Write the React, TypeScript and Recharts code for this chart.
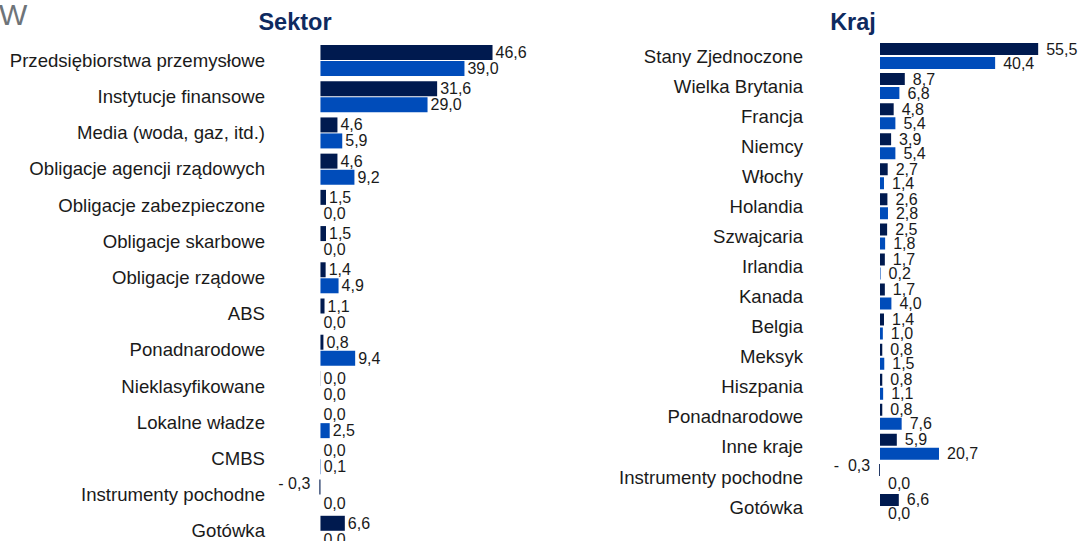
import { BarChart, Bar, XAxis, YAxis, LabelList } from "recharts";

const sectorNames = [
  "Przedsiębiorstwa przemysłowe",
  "Instytucje finansowe",
  "Media (woda, gaz, itd.)",
  "Obligacje agencji rządowych",
  "Obligacje zabezpieczone",
  "Obligacje skarbowe",
  "Obligacje rządowe",
  "ABS",
  "Ponadnarodowe",
  "Nieklasyfikowane",
  "Lokalne władze",
  "CMBS",
  "Instrumenty pochodne",
  "Gotówka",
];
const sectorFund = [46.6, 31.6, 4.6, 4.6, 1.5, 1.5, 1.4, 1.1, 0.8, 0.04, 0.0, 0.0, -0.3, 6.6];
const sectorIndex = [39.0, 29.0, 5.9, 9.2, 0.0, 0.0, 4.9, 0.0, 9.4, 0.0, 2.5, 0.1, 0.0, 0.0];

const countryNames = [
  "Stany Zjednoczone",
  "Wielka Brytania",
  "Francja",
  "Niemcy",
  "Włochy",
  "Holandia",
  "Szwajcaria",
  "Irlandia",
  "Kanada",
  "Belgia",
  "Meksyk",
  "Hiszpania",
  "Ponadnarodowe",
  "Inne kraje",
  "Instrumenty pochodne",
  "Gotówka",
];
const countryFund = [55.5, 8.7, 4.8, 3.9, 2.7, 2.6, 2.5, 1.7, 1.7, 1.4, 0.8, 0.8, 0.8, 5.9, -0.3, 6.6];
const countryIndex = [40.4, 6.8, 5.4, 5.4, 1.4, 2.8, 1.8, 0.2, 4.0, 1.0, 1.5, 1.1, 7.6, 20.7, 0.0, 0.0];

const DARK = "#001a4f";
const BLUE = "#004cba";
const TITLE = "#0e2a5f";

const sectorData = sectorNames.map((name, i) => ({ name, fund: sectorFund[i], index: sectorIndex[i] }));
const countryData = countryNames.map((name, i) => ({ name, fund: countryFund[i], index: countryIndex[i] }));

const fmt = (v: number, gap: string) =>
  (v < 0 ? "-" + gap : "") + Math.abs(v).toFixed(1).replace(".", ",");

// labels after the bar end; negatives go on the left and a bit higher
function makeLabel(offset: number, gap: string) {
  return (props: any) => {
    const vb = props.viewBox && props.viewBox.width !== undefined ? props.viewBox : props;
    const x = Number(vb.x);
    const w = Number(vb.width);
    const y = Number(vb.y);
    const h = Number(vb.height);
    const v = Number(props.value);
    const left = Math.min(x, x + w);
    const right = Math.max(x, x + w);
    const neg = v < 0;
    return (
      <text
        x={neg ? left - 9 : right + offset}
        y={y + h / 2 + (neg ? -4 : 0)}
        textAnchor={neg ? "end" : "start"}
        dominantBaseline="central"
        fontSize={16}
        fill="#1a1a1a"
      >
        {fmt(v, gap)}
      </text>
    );
  };
}

export default function App() {
  return (
    <div
      style={{
        position: "absolute",
        left: 0,
        top: 0,
        width: 1079,
        height: 541,
        overflow: "hidden",
        background: "#fff",
        fontFamily: "'Liberation Sans', Arial, sans-serif",
      }}
    >
      <svg style={{ position: "absolute", left: 0, top: 0 }} width={60} height={40}>
        <text x={-1} y={25} fontSize={30} fill="#6e7479">W</text>
      </svg>
      <div style={{ position: "absolute", left: 195, width: 200, top: 9, textAlign: "center", fontSize: 23.5, fontWeight: "bold", color: TITLE }}>
        Sektor
      </div>
      <div style={{ position: "absolute", left: 753, width: 200, top: 9, textAlign: "center", fontSize: 23.5, fontWeight: "bold", color: TITLE }}>
        Kraj
      </div>

      <div style={{ position: "absolute", left: 0, top: 0 }}>
        <BarChart
          width={580}
          height={562}
          data={sectorData}
          layout="vertical"
          margin={{ top: 42, right: 38, bottom: 13, left: 0 }}
          barSize={15}
          barGap={1}
        >
          <XAxis type="number" domain={[-5, 60]} hide allowDataOverflow />
          <YAxis
            type="category"
            dataKey="name"
            width={302}
            axisLine={false}
            tickLine={false}
            tickMargin={31}
            interval={0}
            tick={{ fontSize: 18.6, fill: "#1a1a1a" }}
          />
          <Bar dataKey="fund" fill={DARK} minPointSize={0.01} isAnimationActive={false}>
            <LabelList dataKey="fund" content={makeLabel(3, " ")} />
          </Bar>
          <Bar dataKey="index" fill={BLUE} minPointSize={0.01} isAnimationActive={false}>
            <LabelList dataKey="index" content={makeLabel(3, " ")} />
          </Bar>
        </BarChart>
      </div>

      <div style={{ position: "absolute", left: 560, top: 0 }}>
        <BarChart
          width={519}
          height={532}
          data={countryData}
          layout="vertical"
          margin={{ top: 41, right: 28, bottom: 10, left: 0 }}
          barSize={12}
          barGap={2}
        >
          <XAxis type="number" domain={[-10, 60]} hide allowDataOverflow />
          <YAxis
            type="category"
            dataKey="name"
            width={291.5}
            axisLine={false}
            tickLine={false}
            tickMargin={42.5}
            interval={0}
            tick={{ fontSize: 18.6, fill: "#1a1a1a" }}
          />
          <Bar dataKey="fund" fill={DARK} minPointSize={0.01} isAnimationActive={false}>
            <LabelList dataKey="fund" content={makeLabel(8, "\u00a0\u00a0")} />
          </Bar>
          <Bar dataKey="index" fill={BLUE} minPointSize={0.01} isAnimationActive={false}>
            <LabelList dataKey="index" content={makeLabel(8, "\u00a0\u00a0")} />
          </Bar>
        </BarChart>
      </div>
    </div>
  );
}
